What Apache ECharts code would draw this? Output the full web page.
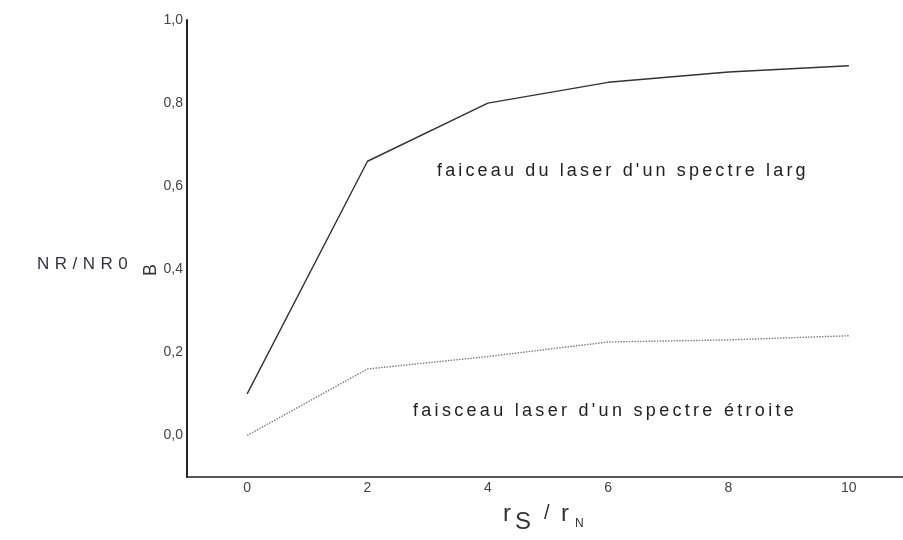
<!DOCTYPE html>
<html>
<head>
<meta charset="utf-8">
<script src="https://cdn.jsdelivr.net/npm/echarts@6/dist/echarts.min.js"></script>
<style>
html, body { margin: 0; padding: 0; background: #fff; }
#chart { width: 903px; height: 540px; }
</style>
</head>
<body>
<div id="chart"></div>
<script>
// data
const xValues = [0, 2, 4, 6, 8, 10]
const wideSpectrum = [0.10, 0.66, 0.80, 0.85, 0.875, 0.89]
const narrowSpectrum = [0.0, 0.16, 0.19, 0.225, 0.23, 0.24]
const yTickLabels = ['0,0', '0,2', '0,4', '0,6', '0,8', '1,0']
const xTickLabels = ['0', '2', '4', '6', '8', '10']

const FONT = '"Liberation Sans", Arial, sans-serif'
const measureCtx = document.createElement('canvas').getContext('2d')

// zrender has no letter spacing, so lay the characters out one by one
function spacedText (str, left, top, size, gap, color) {
    measureCtx.font = size + 'px ' + FONT
    let x = left
    const children = []
    for (const ch of str) {
        children.push({
            type: 'text',
            x: x,
            y: top,
            style: { text: ch, fontSize: size, fontFamily: FONT, fill: color, verticalAlign: 'top' }
        })
        x += measureCtx.measureText(ch).width + gap
    }
    return { type: 'group', children: children }
}

const chart = echarts.init(document.getElementById('chart'))

const option = {
    animation: false,
    grid: {
        left: 187,
        right: 0,
        top: 20,
        bottom: 63
    },
    xAxis: {
        type: 'value',
        min: -1,
        max: 10.9,
        interval: 1,
        splitLine: { show: false },
        axisTick: { show: false },
        axisLine: { onZero: false, lineStyle: { color: '#222', width: 1.5 } },
        axisLabel: {
            margin: 4,
            fontSize: 14,
            fontFamily: FONT,
            color: '#444',
            showMaxLabel: false,
            formatter: function (v) {
                const i = xValues.indexOf(Math.round(v))
                return (i >= 0 && Math.abs(v - xValues[i]) < 1e-6) ? xTickLabels[i] : ''
            }
        }
    },
    yAxis: {
        type: 'value',
        min: -0.1,
        max: 1.0,
        interval: 0.1,
        splitLine: { show: false },
        axisTick: { show: false },
        axisLine: { onZero: false, lineStyle: { color: '#222', width: 2 } },
        axisLabel: {
            margin: 4,
            fontSize: 14,
            fontFamily: FONT,
            color: '#444',
            formatter: function (v) {
                const k = Math.round(v * 10)
                if (k < 0 || k % 2 !== 0) return ''
                return yTickLabels[k / 2]
            }
        }
    },
    series: [{
        type: 'line',
        name: 'large',
        symbol: 'none',
        data: xValues.map((x, i) => [x, wideSpectrum[i]]),
        lineStyle: { color: '#333', width: 1.4 }
    }, {
        type: 'line',
        name: 'etroit',
        symbol: 'none',
        data: xValues.map((x, i) => [x, narrowSpectrum[i]]),
        lineStyle: { color: '#777', width: 1.4, type: 'dotted' }
    }],
    graphic: [
        spacedText("faiceau du laser d'un spectre larg", 437, 162, 18, 3.15, '#222'),
        spacedText("faisceau laser d'un spectre étroite", 413, 402, 18, 3.3, '#222'),
        spacedText('NR/NR0', 37, 256, 17, 5.5, '#334'),
        {
            type: 'text',
            x: 142,
            y: 276,
            rotation: Math.PI / 2,
            style: { text: 'B', fontSize: 18, fontFamily: FONT, fill: '#333', verticalAlign: 'top' }
        },
        // axis title r_S / r_N
        { type: 'text', x: 503, y: 502, style: { text: 'r', fontSize: 24, fontFamily: FONT, fill: '#333', verticalAlign: 'top' } },
        { type: 'text', x: 515, y: 510, style: { text: 'S', fontSize: 24, fontFamily: FONT, fill: '#333', verticalAlign: 'top' } },
        { type: 'text', x: 544, y: 503, style: { text: '/', fontSize: 20, fontFamily: FONT, fill: '#333', verticalAlign: 'top' } },
        { type: 'text', x: 561, y: 502, style: { text: 'r', fontSize: 24, fontFamily: FONT, fill: '#333', verticalAlign: 'top' } },
        { type: 'text', x: 575, y: 518, style: { text: 'N', fontSize: 12, fontFamily: FONT, fill: '#333', verticalAlign: 'top' } }
    ]
}

chart.setOption(option)
</script>
</body>
</html>
